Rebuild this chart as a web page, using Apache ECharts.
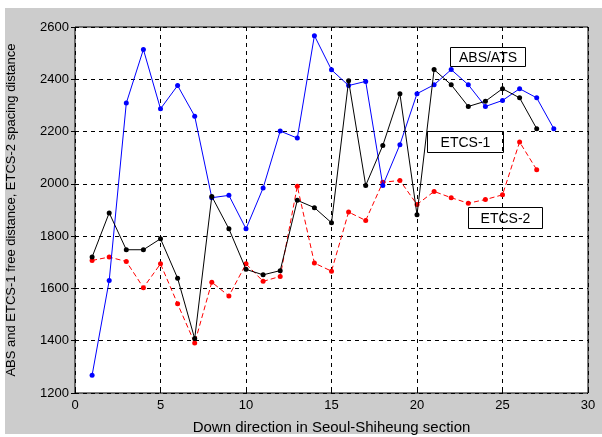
<!DOCTYPE html>
<html><head><meta charset="utf-8">
<script src="https://cdn.jsdelivr.net/npm/echarts@6/dist/echarts.min.js"></script>
<style>html,body{margin:0;padding:0;background:#fff}#c{width:602px;height:437px}</style>
</head><body><div id="c"></div>
<script>
var xs = [1,2,3,4,5,6,7,8,9,10,11,12,13,14,15,16,17,18,19,20,21,22,23,24,25,26,27,28];
var absAts = [1268,1630,2309,2514,2287,2376,2259,1947,1956,1828,1984,2202,2175,2567,2436,2376,2392,1994,2150,2345,2379,2437,2379,2296,2319,2364,2329,2211];
var etcs1 = [1720,1889,1748,1748,1790,1639,1408,1952,1828,1673,1652,1668,1937,1909,1851,2394,1994,2147,2345,1882,2437,2379,2296,2316,2364,2329,2211];
var etcs2 = [1707,1720,1703,1603,1694,1541,1391,1624,1571,1694,1627,1646,1991,1697,1666,1892,1860,2006,2013,1921,1971,1947,1926,1940,1958,2160,2054];
var xTicks = [0,5,10,15,20,25,30];
var yTicks = [1200,1400,1600,1800,2000,2200,2400,2600];

function pairs(v){ return v.map(function(y,i){ return [xs[i], y]; }); }
var font = 'Liberation Sans, Arial, sans-serif';
var chart = echarts.init(document.getElementById('c'), null, {renderer:'canvas'});
function box(txt, x, y, w, h){
  return {type:'group', left:x, top:y, z:100, children:[
    {type:'rect', shape:{x:0,y:0,width:w,height:h}, style:{fill:'#fff', stroke:'#000', lineWidth:1}},
    {type:'text', style:{x:w/2, y:h/2+1, text:txt, fill:'#000', font:'14px '+font, align:'center', verticalAlign:'middle'}}
  ]};
}
var gridStyle = {show:true, lineStyle:{color:'#000', type:[4,4], width:1}};
var tick = {show:true, inside:true, length:4, lineStyle:{color:'#000'}};
var lbl = {color:'#000', fontSize:13, fontFamily:font, margin:6, formatter:function(v){return String(v);}};
chart.setOption({
  backgroundColor:'#fff',
  animation:false,
  graphic:[
    {type:'rect', z:-10, shape:{x:5,y:8,width:597,height:426}, style:{fill:'#cccccc'}, silent:true},
    box('ABS/ATS', 450, 47, 75, 19),
    box('ETCS-1', 427, 131, 76, 21),
    box('ETCS-2', 468, 207, 74, 21)
  ],
  grid:{left:75, top:27, width:513, height:366, show:true, backgroundColor:'#fff', borderColor:'#000', borderWidth:1, containLabel:false, outerBoundsMode:'none'},
  xAxis:[{type:'value', min:xTicks[0], max:xTicks[xTicks.length-1], interval:5,
    name:'Down direction in Seoul-Shiheung section', nameLocation:'middle', nameGap:27,
    nameTextStyle:{color:'#000', fontSize:15, fontFamily:font},
    axisLine:{show:false}, axisTick:tick, axisLabel:lbl, splitLine:gridStyle},
    {type:'value', position:'top', min:xTicks[0], max:xTicks[xTicks.length-1], interval:5,
    axisLine:{show:false}, axisTick:tick, axisLabel:{show:false}, splitLine:{show:false}}],
  yAxis:[{type:'value', min:yTicks[0], max:yTicks[yTicks.length-1], interval:200,
    name:'ABS and ETCS-1 free distance, ETCS-2 spacing distance', nameLocation:'middle', nameGap:57,
    nameTextStyle:{color:'#000', fontSize:13, fontFamily:font},
    axisLine:{show:false}, axisTick:tick, axisLabel:lbl, splitLine:gridStyle},
    {type:'value', position:'right', min:yTicks[0], max:yTicks[yTicks.length-1], interval:200,
    axisLine:{show:false}, axisTick:tick, axisLabel:{show:false}, splitLine:{show:false}}],
  series:[
    {name:'ABS/ATS', type:'line', data:pairs(absAts), symbol:'circle', symbolSize:5,
     lineStyle:{color:'#0000ff', width:1}, itemStyle:{color:'#0000ff'}, z:3},
    {name:'ETCS-1', type:'line', data:pairs(etcs1), symbol:'circle', symbolSize:5,
     lineStyle:{color:'#000', width:1}, itemStyle:{color:'#000'}, z:4},
    {name:'ETCS-2', type:'line', data:pairs(etcs2), symbol:'circle', symbolSize:5,
     lineStyle:{color:'#ff0000', width:1, type:[5,3]}, itemStyle:{color:'#ff0000'}, z:2}
  ]
});
</script></body></html>
